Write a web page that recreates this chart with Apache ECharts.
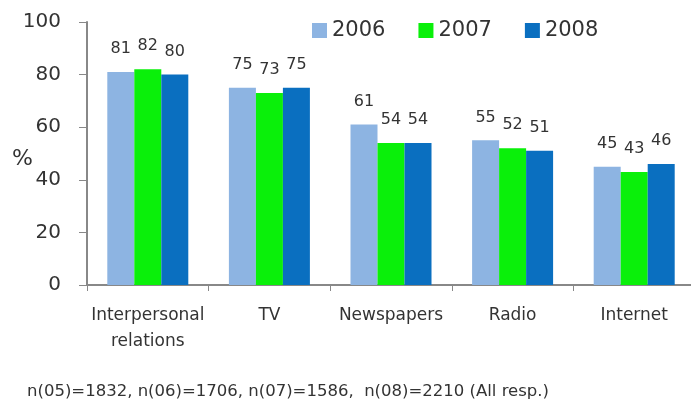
<!DOCTYPE html>
<html>
<head>
<meta charset="utf-8">
<script src="https://cdn.jsdelivr.net/npm/echarts@6/dist/echarts.min.js"></script>
<style>
  html, body { margin: 0; padding: 0; background: #ffffff; }
  #chart { width: 691px; height: 405px; }
</style>
</head>
<body>
<div id="chart"></div>
<script>
// Media sources used, share of respondents (%) per survey year
const categories = ['Interpersonal\nrelations', 'TV', 'Newspapers', 'Radio', 'Internet'];
const years = ['2006', '2007', '2008'];
const values2006 = [81, 75, 61, 55, 45];
const values2007 = [82, 73, 54, 52, 43];
const values2008 = [80, 75, 54, 51, 46];
const yTicks = { min: 0, max: 100, interval: 20 };
const footnote = 'n(05)=1832, n(06)=1706, n(07)=1586,  n(08)=2210 (All resp.)';

const colors = ['#8db4e2', '#0af00a', '#0a6fc0'];
const seriesValues = [values2006, values2007, values2008];
const font = 'DejaVu Sans';
const axisGray = '#888888';
const textColor = '#333333';

const chart = echarts.init(document.getElementById('chart'), null, { renderer: 'canvas' });

chart.setOption({
  animation: false,
  backgroundColor: '#ffffff',
  title: {
    text: footnote,
    left: 27,
    top: 383,
    padding: 0,
    textStyle: { fontFamily: font, fontSize: 16.5, fontWeight: 'normal', color: textColor }
  },
  legend: {
    data: years,
    left: 312,
    top: 20,
    padding: 0,
    itemWidth: 15,
    itemHeight: 15,
    itemGap: 33,
    icon: 'rect',
    textStyle: { fontFamily: font, fontSize: 21, color: textColor, padding: [0, 0, 0, 0] }
  },
  // plot area runs slightly past the right edge of the canvas
  grid: { left: 87, top: 22, width: 608, bottom: 120, containLabel: false, outerBoundsMode: 'none' },
  xAxis: {
    type: 'category',
    data: categories,
    axisLine: { lineStyle: { color: axisGray, width: 2 } },
    axisTick: { show: true, length: 6, lineStyle: { color: axisGray, width: 1 } },
    axisLabel: {
      fontFamily: font, fontSize: 17, color: textColor,
      margin: 18, lineHeight: 26, interval: 0
    }
  },
  yAxis: {
    type: 'value',
    min: yTicks.min,
    max: yTicks.max,
    interval: yTicks.interval,
    name: '%',
    nameLocation: 'middle',
    nameRotate: 0,
    nameGap: 54,
    nameMoveOverlap: false,
    nameTextStyle: { fontFamily: font, fontSize: 22, color: textColor, verticalAlign: 'top', lineHeight: 12 },
    splitLine: { show: false },
    axisLine: { show: true, lineStyle: { color: axisGray, width: 2 } },
    axisTick: { show: true, length: 8, lineStyle: { color: axisGray, width: 1 } },
    axisLabel: { fontFamily: font, fontSize: 20, color: textColor, margin: 26 }
  },
  series: years.map((y, i) => ({
    name: y,
    type: 'bar',
    data: seriesValues[i],
    barWidth: 27,
    barGap: '0%',
    itemStyle: { color: colors[i] },
    label: {
      show: true,
      position: 'top',
      distance: 15,
      fontFamily: font,
      fontSize: 16,
      color: textColor
    }
  }))
});
</script>
</body>
</html>
